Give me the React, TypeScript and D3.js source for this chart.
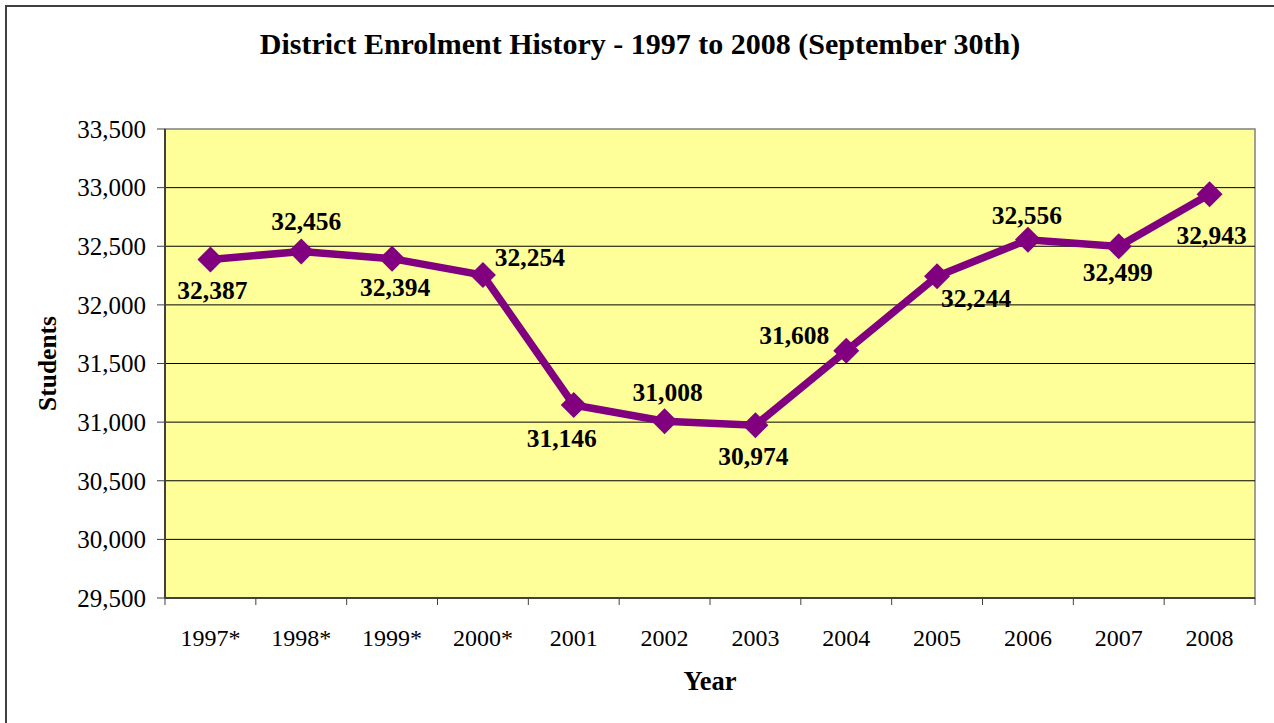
import React from "react";
import * as d3 from "d3";

const years: string[] = ["1997*", "1998*", "1999*", "2000*", "2001", "2002", "2003", "2004", "2005", "2006", "2007", "2008"];
const enrolment: number[] = [32387, 32456, 32394, 32254, 31146, 31008, 30974, 31608, 32244, 32556, 32499, 32943];
const yTicks: number[] = [29500, 30000, 30500, 31000, 31500, 32000, 32500, 33000, 33500];
// label placement offsets relative to each point (dx, dy)
const labelDx: number[] = [2, 5, 3, 47, -12, 3, -2, -52, 39, -1, -1, 2];
const labelDy: number[] = [31, -30, 28, -18, 33, -29, 31, -16, 22, -25, 26, 41];

const W = 1274;
const H = 723;
const plot = { left: 165, right: 1255, top: 129, bottom: 598 };
const FONT = "'Liberation Serif', 'Times New Roman', Times, serif";

export default function App() {
  const x = d3.scaleBand<string>().domain(years).range([plot.left, plot.right]).padding(0);
  const y = d3.scaleLinear().domain([29500, 33500]).range([plot.bottom, plot.top]);
  const fmt = d3.format(",");
  const cx = (i: number) => (x(years[i]) as number) + x.bandwidth() / 2;

  const line = d3
    .line<number>()
    .x((_, i) => cx(i))
    .y((d) => y(d));

  const diamond = (px: number, py: number, r: number) =>
    `M${px},${py - r}L${px + r},${py}L${px},${py + r}L${px - r},${py}Z`;

  const boundaries = years.map((yr) => x(yr) as number).concat([plot.right]);

  return (
    <svg
      width={W}
      height={H}
      style={{ position: "absolute", left: 0, top: 0, background: "#fff" }}
      fontFamily={FONT}
    >
      <rect x={6} y={6} width={W + 20} height={H + 20} fill="#fff" stroke="#404040" strokeWidth={2} />
      <text x={640} y={54} textAnchor="middle" fontSize={30} fontWeight="bold" fill="#000">
        District Enrolment History - 1997 to 2008 (September 30th)
      </text>

      {/* plot area */}
      <rect
        x={plot.left}
        y={plot.top}
        width={plot.right - plot.left}
        height={plot.bottom - plot.top}
        fill="#FFFF99"
        stroke="#808080"
        strokeWidth={1.5}
      />
      {yTicks.slice(1, -1).map((t) => (
        <line key={"g" + t} x1={plot.left} x2={plot.right} y1={y(t)} y2={y(t)} stroke="#000" strokeWidth={1} />
      ))}
      {/* axes */}
      <line x1={plot.left} x2={plot.left} y1={plot.top} y2={plot.bottom} stroke="#404040" strokeWidth={2} />
      <line x1={plot.left} x2={plot.right} y1={plot.bottom} y2={plot.bottom} stroke="#404040" strokeWidth={2} />
      {yTicks.map((t) => (
        <g key={"yt" + t}>
          <line x1={plot.left - 8} x2={plot.left} y1={y(t)} y2={y(t)} stroke="#404040" strokeWidth={1} />
          <text x={146} y={y(t)} dy="0.35em" textAnchor="end" fontSize={25} fill="#000">
            {fmt(t)}
          </text>
        </g>
      ))}
      {boundaries.map((b, i) => (
        <line key={"xt" + i} x1={b} x2={b} y1={plot.bottom} y2={plot.bottom + 7} stroke="#404040" strokeWidth={1} />
      ))}
      {years.map((yr, i) => (
        <text key={"xl" + yr} x={cx(i)} y={646} textAnchor="middle" fontSize={24} fill="#000">
          {yr}
        </text>
      ))}
      <text x={710} y={690} textAnchor="middle" fontSize={26.5} fontWeight="bold" fill="#000">
        Year
      </text>
      <text
        transform={`translate(56, ${(plot.top + plot.bottom) / 2}) rotate(-90)`}
        textAnchor="middle"
        fontSize={25.5}
        fontWeight="bold"
        fill="#000"
      >
        Students
      </text>

      {/* series */}
      <path d={line(enrolment) ?? ""} fill="none" stroke="#800080" strokeWidth={7.5} strokeLinejoin="miter" />
      {enrolment.map((v, i) => (
        <path key={"m" + i} d={diamond(cx(i), y(v), 13)} fill="#800080" />
      ))}
      {enrolment.map((v, i) => (
        <text
          key={"l" + i}
          x={cx(i) + labelDx[i]}
          y={y(v) + labelDy[i]}
          dy="0.35em"
          textAnchor="middle"
          fontSize={25.5}
          fontWeight="bold"
          fill="#000"
        >
          {fmt(v)}
        </text>
      ))}
    </svg>
  );
}
